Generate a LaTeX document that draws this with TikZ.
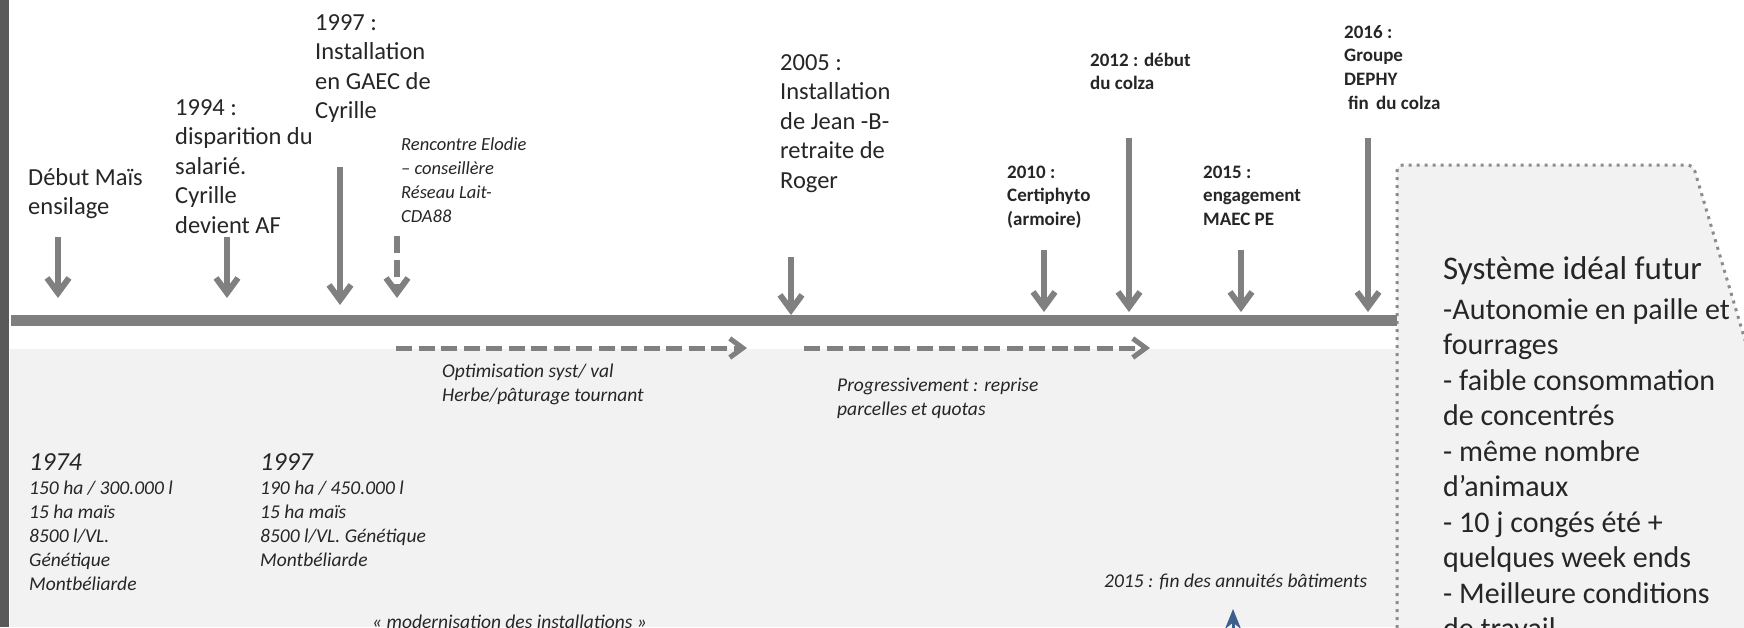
\documentclass[tikz,border=0pt]{standalone}
\usepackage{fontspec}
\setmainfont{Carlito}
\usetikzlibrary{arrows.meta}
\definecolor{arrowgray}{HTML}{808080}
\definecolor{bargray}{HTML}{7F7F7F}
\definecolor{txt}{HTML}{262626}
\definecolor{bglow}{HTML}{F2F2F2}
\definecolor{leftbar}{HTML}{595959}
\definecolor{dotgray}{HTML}{8C8C8C}
\definecolor{blueish}{HTML}{3C5F8C}
\tikzset{
  lbl/.style={inner sep=0pt, anchor=base west, align=left, text=txt, font=\fontsize{24.5}{29.5}\selectfont},
  smalllbl/.style={lbl, font=\fontsize{19}{23.8}\selectfont\bfseries},
  smallit/.style={lbl, font=\fontsize{19.5}{24}\selectfont\itshape},
  renc/.style={lbl, font=\fontsize{18.5}{24}\selectfont\itshape},
  bigit/.style={lbl, font=\fontsize{26}{30}\selectfont\itshape},
  boxtxt/.style={lbl, font=\fontsize{30}{35.5}\selectfont},
  boxtitle/.style={lbl, font=\fontsize{33}{38}\selectfont},
  evarrow/.style={draw=arrowgray, line width=6pt, -{Straight Barb[length=15pt, width=22pt]}},
  evdash/.style={evarrow, dash pattern=on 17pt off 7pt},
  hdash/.style={draw=arrowgray, line width=5pt, dash pattern=on 16pt off 6.5pt, -{Straight Barb[length=13pt, width=19pt]}},
}
\begin{document}
\begin{tikzpicture}[x=1pt,y=-1pt]
\useasboundingbox (0,0) rectangle (1744,627);
\clip (0,0) rectangle (1744,627);
% backgrounds
\fill[white] (0,0) rectangle (1744,627);
\fill[bglow] (10,349) rectangle (1397,627);
\filldraw[fill=bglow, draw=dotgray, line width=3pt, dash pattern=on 3pt off 5pt, rounded corners=6pt]
  (1397,660) -- (1397,165) -- (1693,165) -- (1840,660);
\fill[leftbar] (0,0) rectangle (9,627);
% timeline bar
\fill[bargray] (11,315) rectangle (1397,326);

% top labels (anchor = baseline of last line)
\node[lbl] (l1) at (28,214.5) {Début Maïs\\ensilage};
\node[lbl] (l2) at (175,233) {1994 :\\disparition du\\salarié.\\Cyrille\\devient AF};
\node[lbl] (l3) at (315,118.5) {1997 :\\Installation\\en GAEC de\\Cyrille};
\node[renc] (l4) at (401,222) {Rencontre Elodie\\– conseillère\\Réseau Lait-\\CDA88};
\node[lbl] (l5) at (780,188) {2005 :\\Installation\\de Jean -B-\\retraite de\\Roger};
\node[smalllbl] (l6) at (1007,225.6) {2010 :\\Certiphyto\\(armoire)};
\node[smalllbl] (l7) at (1090,89.8) {2012 : début\\du colza};
\node[smalllbl] (l8) at (1203,225.6) {2015 :\\engagement\\MAEC PE};
\node[smalllbl] (l9) at (1344,109.4) {2016 :\\Groupe\\DEPHY\\\hspace*{4pt}fin\hspace{3pt} du colza};

% event arrows
\coordinate (a1s) at (58,237);   \coordinate (a1e) at (58,298);
\coordinate (a2s) at (227,237);  \coordinate (a2e) at (227,298);
\coordinate (a3s) at (340,167);  \coordinate (a3e) at (340,305);
\coordinate (a4s) at (397,236);  \coordinate (a4e) at (397,298);
\coordinate (a5s) at (791,257);  \coordinate (a5e) at (791,315);
\coordinate (a6s) at (1044,250); \coordinate (a6e) at (1044,312);
\coordinate (a7s) at (1129,138); \coordinate (a7e) at (1129,312);
\coordinate (a8s) at (1241,250); \coordinate (a8e) at (1241,312);
\coordinate (a9s) at (1368,138); \coordinate (a9e) at (1368,312);
\draw[evarrow] (a1s) -- (a1e);
\draw[evarrow] (a2s) -- (a2e);
\draw[evarrow] (a3s) -- (a3e);
\draw[evdash] (a4s) -- (a4e);
\draw[evarrow] (a5s) -- (a5e);
\draw[evarrow] (a6s) -- (a6e);
\draw[evarrow] (a7s) -- (a7e);
\draw[evarrow] (a8s) -- (a8e);
\draw[evarrow] (a9s) -- (a9e);

% dashed period arrows
\coordinate (d1s) at (396,348); \coordinate (d1e) at (747,348);
\coordinate (d2s) at (804,348); \coordinate (d2e) at (1150,348);
\draw[hdash] (d1s) -- (d1e);
\draw[hdash] (d2s) -- (d2e);

% lower labels
\node[smallit] (p1) at (442,401) {Optimisation syst/ val\\Herbe/pâturage tournant};
\node[smallit] (p2) at (837,415) {Progressivement : reprise\\parcelles et quotas};
\node[bigit] (y1) at (29,470) {1974};
\node[smallit] (s1) at (29,590) {150 ha / 300.000 l\\15 ha maïs\\8500 l/VL.\\Génétique\\Montbéliarde};
\node[bigit] (y2) at (260,470) {1997};
\node[smallit] (s2) at (260,566) {190 ha / 450.000 l\\15 ha maïs\\8500 l/VL. Génétique\\Montbéliarde};
\node[smallit] (m1) at (372,628) {« modernisation des installations »};
\node[smallit] (f1) at (1104,587) {2015 : fin des annuités bâtiments};
\coordinate (b1s) at (1233,660); \coordinate (b1e) at (1233,609);
\draw[blueish, line width=3pt, -{Stealth[length=20pt, width=16pt]}] (b1s) -- (b1e);

% ideal system box text
\node[boxtitle] (t1) at (1443,279) {Système idéal futur};
\node[boxtxt] (t2) at (1443,638.5) {-Autonomie en paille et\\fourrages\\- faible consommation\\de concentrés\\- même nombre\\d’animaux\\- 10 j congés été +\\quelques week ends\\- Meilleure conditions\\de travail};
\end{tikzpicture}
\end{document}
